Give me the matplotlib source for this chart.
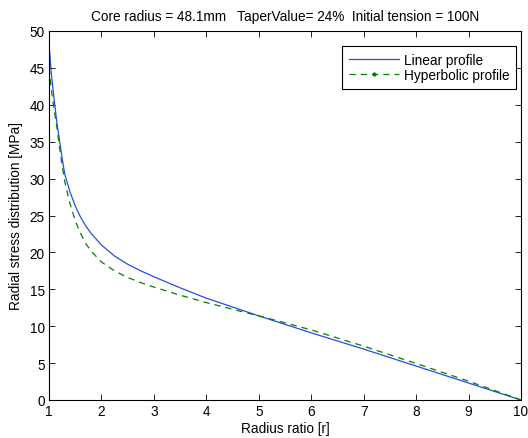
import matplotlib
matplotlib.use("Agg")
import matplotlib.pyplot as plt
from matplotlib.lines import Line2D

plt.rcParams['font.family'] = ['Liberation Sans', 'DejaVu Sans']

radius_ratio = [1.0, 1.05, 1.1, 1.15, 1.2, 1.25, 1.3, 1.4, 1.5, 1.6, 1.7, 1.8, 2.0,
                2.25, 2.5, 2.75, 3.0, 3.5, 4.0, 5.0, 6.0, 7.0, 8.0, 9.0, 10.0]
linear_stress = [48.2, 43.8, 40.6, 37.6, 35.2, 32.8, 30.6, 28.2, 26.3, 24.8, 23.6, 22.6, 21.0,
                 19.5, 18.4, 17.5, 16.7, 15.2, 13.8, 11.4, 9.1, 6.9, 4.6, 2.3, 0.0]
hyperbolic_stress = [45.0, 41.8, 39.2, 37.0, 34.3, 31.8, 29.6, 26.6, 24.3, 22.6, 21.2, 20.2, 18.7,
                     17.5, 16.6, 15.9, 15.3, 14.2, 13.2, 11.4, 9.5, 7.3, 4.95, 2.55, 0.0]

xticks = [1, 2, 3, 4, 5, 6, 7, 8, 9, 10]
yticks = [0, 5, 10, 15, 20, 25, 30, 35, 40, 45, 50]

W, H = 528, 439
fig = plt.figure(figsize=(W / 100, H / 100), dpi=100)
ax = fig.add_axes([49 / W, (H - 401) / H, (521 - 49) / W, (401 - 32) / H])

blue = (0.15, 0.3, 0.9)
green = (0.0, 0.5, 0.0)
ax.plot(radius_ratio, linear_stress, color=blue, lw=0.9)
ax.plot(radius_ratio, hyperbolic_stress, color=green, lw=0.9, ls=(0, (5, 4)))

fs = 9.8
ax.set_xlim(1, 10)
ax.set_ylim(0, 50)
ax.set_xticks(xticks)
ax.set_yticks(yticks)
ax.tick_params(direction='in', top=True, right=True, length=4, width=0.6,
               labelsize=fs, pad=3)
for s in ax.spines.values():
    s.set_linewidth(0.8)

ax.set_xlabel('Radius ratio [r]', fontsize=fs, labelpad=2)
ax.set_ylabel('Radial stress distribution [MPa]', fontsize=fs, labelpad=5)
ax.set_title('Core radius = 48.1mm   TaperValue= 24%  Initial tension = 100N',
             fontsize=fs, pad=8)

handles = [Line2D([], [], color=blue, lw=0.9),
           Line2D([], [], color=green, lw=0.9, ls=(0, (5, 4)), marker='.', markersize=4)]
leg = ax.legend(handles, ['Linear profile', 'Hyperbolic profile'], loc='upper right',
                bbox_to_anchor=(516 / W, 1 - 47 / H), bbox_transform=fig.transFigure,
                fontsize=fs, fancybox=False, framealpha=1, edgecolor='black',
                borderaxespad=0, handlelength=3.7, handletextpad=0.3,
                labelspacing=0.1, borderpad=0.5)
leg.get_frame().set_linewidth(0.8)

fig.savefig('out.png', dpi=100)
